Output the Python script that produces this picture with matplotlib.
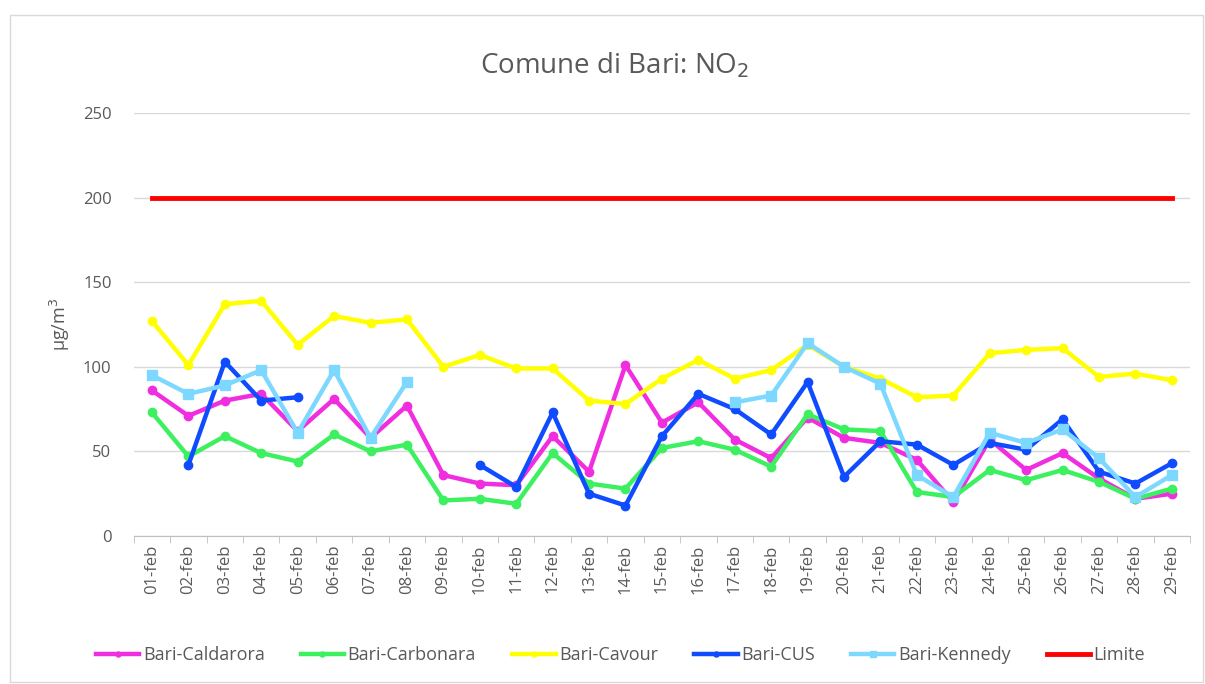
import matplotlib.pyplot as plt
import numpy as np
from matplotlib.patches import Rectangle

nan = np.nan

# Days of February
days = [f"{d:02d}-feb" for d in range(1, 30)]

caldarora = [86, 71, 80, 84, 62, 81, 58, 77, 36, 31, 30, 59, 38, 101, 67, 79,
             57, 46, 70, 58, 55, 45, 20, 57, 39, 49, 34, 22, 25]
carbonara = [73, 47, 59, 49, 44, 60, 50, 54, 21, 22, 19, 49, 31, 28, 52, 56,
             51, 41, 72, 63, 62, 26, 23, 39, 33, 39, 32, 22, 28]
cavour = [127, 101, 137, 139, 113, 130, 126, 128, 100, 107, 99, 99, 80, 78, 93, 104,
          93, 98, 113, 100, 93, 82, 83, 108, 110, 111, 94, 96, 92]
cus = [nan, 42, 103, 80, 82, nan, nan, nan, nan, 42, 29, 73, 25, 18, 59, 84,
       75, 60, 91, 35, 56, 54, 42, 55, 51, 69, 38, 31, 43]
kennedy = [95, 84, 89, 98, 61, 98, 58, 91, nan, nan, nan, nan, nan, nan, nan, nan,
           79, 83, 114, 100, 90, 36, 23, 61, 55, 63, 46, 23, 36]
limite = [200] * 29

x = np.arange(len(days))

fig = plt.figure(figsize=(12.05, 6.84), dpi=100)
ax = fig.add_axes([0.111, 0.2164, 0.8766, 0.6184])

# chart border like excel
fig.patches.append(Rectangle((0.008, 0.003), 0.99, 0.975, transform=fig.transFigure,
                             fill=False, edgecolor='#D9D9D9', linewidth=1))

lw = 3.2
ax.plot(x, caldarora, color='#F02EE0', lw=lw, marker='o', ms=6, label='Bari-Caldarora')
ax.plot(x, carbonara, color='#3CF060', lw=lw, marker='o', ms=6, label='Bari-Carbonara')
ax.plot(x, cavour, color='#FFFF00', lw=lw, marker='o', ms=6, label='Bari-Cavour')
ax.plot(x, cus, color='#0F4BFF', lw=lw, marker='o', ms=6, label='Bari-CUS')
ax.plot(x, kennedy, color='#7DD8FF', lw=lw, marker='s', ms=7, label='Bari-Kennedy')
ax.plot(x, limite, color='#FF0000', lw=3.5, label='Limite')

ax.set_xlim(-0.5, len(days) - 0.5)
ax.set_ylim(0, 250)
ax.set_yticks([0, 50, 100, 150, 200, 250])
ax.yaxis.grid(True, color='#D9D9D9', lw=1)
ax.set_axisbelow(True)
for s in ['top', 'right', 'left']:
    ax.spines[s].set_visible(False)
ax.spines['bottom'].set_color('#BFBFBF')

ax.set_xticks(x)
ax.set_xticklabels(days, rotation=90, fontsize=12, color='#595959', family='Open Sans')
ax.set_xticks(np.arange(-0.5, len(days), 1), minor=True)
ax.tick_params(axis='x', which='major', length=0, pad=6)
ax.tick_params(axis='x', which='minor', length=5, color='#BFBFBF')
ax.tick_params(axis='y', length=0, labelsize=12, labelcolor='#595959', pad=16)
for t in ax.get_yticklabels():
    t.set_family('Open Sans')

ax.set_ylabel('μg/m$^3$', fontsize=13, color='#595959', family='Open Sans', labelpad=8)

fig.text(0.51, 0.905, 'Comune di Bari: NO$_2$', ha='center', va='center',
         fontsize=20, color='#595959', family='Open Sans')

fig.legend(loc='center', bbox_to_anchor=(0.515, 0.042), ncol=6, frameon=False,
           handlelength=2.4, columnspacing=2.0, handletextpad=0.2,
           markerscale=0.6, prop={'family': 'Open Sans', 'size': 13},
           labelcolor='#595959')

fig.savefig('out.png', dpi=100)
